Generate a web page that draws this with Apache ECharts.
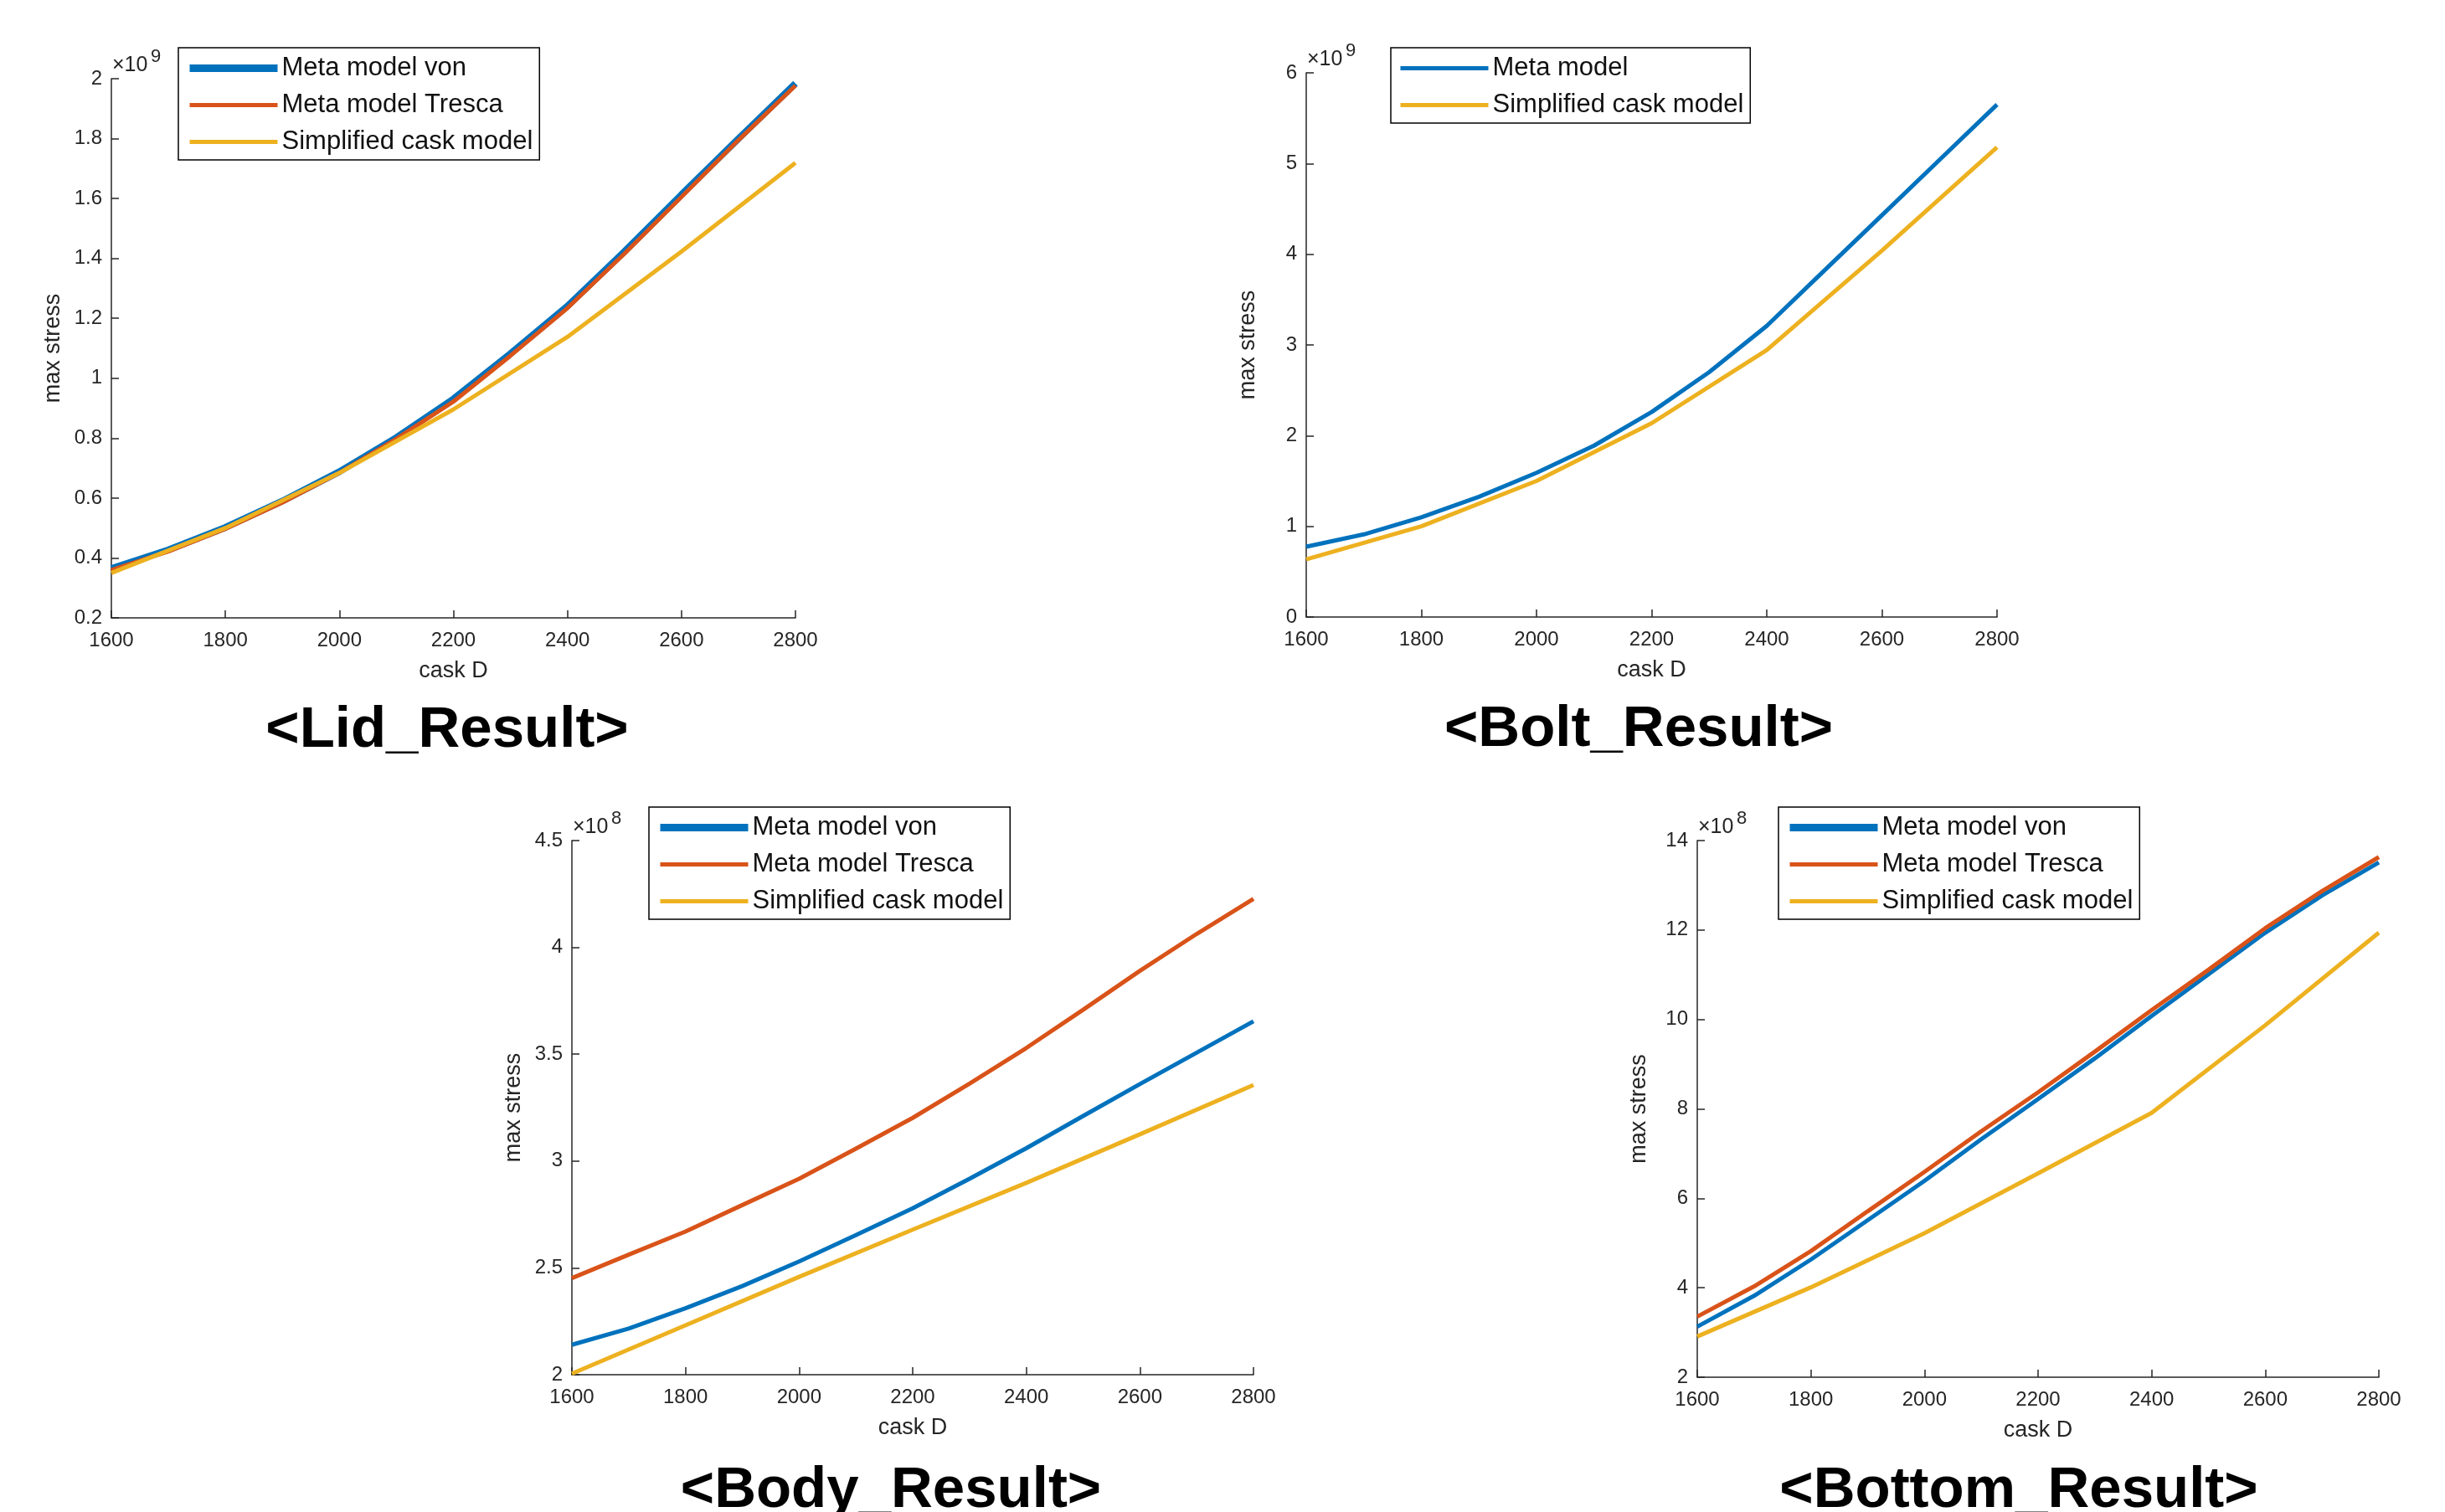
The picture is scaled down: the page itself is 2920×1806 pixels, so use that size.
<!DOCTYPE html>
<html>
<head>
<meta charset="utf-8">
<title>max stress vs cask D</title>
<script src="https://cdn.jsdelivr.net/npm/echarts@6/dist/echarts.min.js"></script>
<style>
    html, body { margin: 0; padding: 0; background: #fff; }
    #main { width: 2920px; height: 1806px; }
</style>
</head>
<body>
<div id="main"></div>
<script>
// cask diameter steps (meta model every 100, simplified model every 200)
var xMeta = [1600, 1700, 1800, 1900, 2000, 2100, 2200, 2300, 2400, 2500, 2600, 2700, 2800];
var xSimp = [1600, 1800, 2000, 2200, 2400, 2600, 2800];

// Lid (x10^9)
var lidVon     = [0.365, 0.427, 0.502, 0.590, 0.688, 0.802, 0.931, 1.082, 1.241, 1.423, 1.613, 1.800, 1.984];
var lidTresca  = [0.360, 0.422, 0.497, 0.585, 0.684, 0.798, 0.922, 1.075, 1.234, 1.416, 1.605, 1.795, 1.977];
var lidSimp    = [0.350, 0.500, 0.684, 0.896, 1.138, 1.423, 1.719];

// Bolt (x10^9)
var boltMeta   = [0.776, 0.911, 1.100, 1.326, 1.590, 1.890, 2.260, 2.700, 3.210, 3.820, 4.430, 5.040, 5.650];
var boltSimp   = [0.636, 1.000, 1.500, 2.137, 2.943, 4.040, 5.180];

// Body (x10^8)
var bodyVon    = [2.140, 2.216, 2.311, 2.415, 2.530, 2.653, 2.779, 2.917, 3.060, 3.211, 3.360, 3.507, 3.654];
var bodyTresca = [2.452, 2.562, 2.670, 2.794, 2.917, 3.058, 3.202, 3.362, 3.529, 3.708, 3.890, 4.063, 4.227];
var bodySimp   = [2.005, 2.231, 2.458, 2.679, 2.898, 3.125, 3.356];

// Bottom (x10^8)
var bottomVon    = [3.13, 3.82, 4.63, 5.51, 6.39, 7.32, 8.22, 9.13, 10.08, 11.01, 11.94, 12.77, 13.51];
var bottomTresca = [3.355, 4.03, 4.82, 5.71, 6.59, 7.50, 8.37, 9.28, 10.21, 11.11, 12.04, 12.87, 13.63];
var bottomSimp   = [2.91, 4.01, 5.22, 6.56, 7.91, 9.87, 11.94];

// axis ticks [min, max, step]
var xTicks = [1600, 2800, 200];
var yTicksLid = [0.2, 2, 0.2];
var yTicksBolt = [0, 6, 1];
var yTicksBody = [2, 4.5, 0.5];
var yTicksBottom = [2, 14, 2];

var panelTitles = ['<Lid_Result>', '<Bolt_Result>', '<Body_Result>', '<Bottom_Result>'];
var exponents = ['9', '9', '8', '8'];

var BLUE = '#0072BD', RED = '#D95319', YELLOW = '#EDB120';
var AX = '#262626';
var FONT = 'Liberation Sans, Arial, sans-serif';

function pairs(xs, ys) {
    var out = [];
    for (var i = 0; i < xs.length; i++) {
        out.push([xs[i], ys[i]]);
    }
    return out;
}

// panel boxes: [left, top, width, height]
var boxes = [
    [133, 94, 817, 644],
    [1560, 87, 825, 650],
    [683, 1004, 814, 638],
    [2027, 1004, 814, 641]
];
var yTicks = [yTicksLid, yTicksBolt, yTicksBody, yTicksBottom];
// big caption: centre x, baseline y
var titleBase = [[534, 891], [1957, 890], [1064, 1799], [2411, 1799]];

var grids = [], xAxes = [], yAxes = [], legends = [], graphics = [];

for (var i = 0; i < 4; i++) {
    var b = boxes[i];
    grids.push({left: b[0], top: b[1], width: b[2], height: b[3], containLabel: false});
    xAxes.push({
        type: 'value', gridIndex: i,
        min: xTicks[0], max: xTicks[1], interval: xTicks[2],
        name: 'cask D', nameLocation: 'middle', nameGap: 50,
        nameTextStyle: {color: AX, fontSize: 27, fontFamily: FONT},
        axisLine: {lineStyle: {color: AX, width: 1.5}},
        axisTick: {inside: true, length: 9, lineStyle: {color: AX, width: 1.5}},
        axisLabel: {
            color: AX, fontSize: 24, margin: 15, fontFamily: FONT,
            formatter: function (v) { return String(v); }
        },
        splitLine: {show: false}
    });
    yAxes.push({
        type: 'value', gridIndex: i,
        min: yTicks[i][0], max: yTicks[i][1], interval: yTicks[i][2],
        name: 'max stress', nameLocation: 'middle', nameGap: 56, nameRotate: 90,
        nameTextStyle: {color: AX, fontSize: 27, fontFamily: FONT},
        axisLine: {show: true, lineStyle: {color: AX, width: 1.5}},
        axisTick: {show: true, inside: true, length: 9, lineStyle: {color: AX, width: 1.5}},
        axisLabel: {
            color: AX, fontSize: 24, margin: 11, fontFamily: FONT,
            formatter: function (v) { return String(+v.toFixed(3)); }
        },
        splitLine: {show: false}
    });
    // x10^n exponent above the y axis
    graphics.push({
        type: 'text', left: b[0] + 1, top: b[1] - 28,
        style: {text: '\u00d710', fontSize: 25, fontFamily: FONT, fill: AX}
    });
    graphics.push({
        type: 'text', left: b[0] + 47, top: b[1] - 37,
        style: {text: exponents[i], fontSize: 22, fontFamily: FONT, fill: AX}
    });
    // big caption under each panel
    graphics.push({
        type: 'text', x: titleBase[i][0], y: titleBase[i][1] - 18,
        style: {
            text: panelTitles[i], x: 0, y: 0,
            fontSize: 69, fontWeight: 'bold', fontFamily: FONT, fill: '#000',
            align: 'center', verticalAlign: 'middle'
        }
    });
}

function legendBox(left, top, names, thickBlue) {
    var data = [];
    for (var k = 0; k < names.length; k++) {
        var d = {name: names[k]};
        if (k === 0 && thickBlue) d.lineStyle = {width: 9};
        data.push(d);
    }
    return {
        orient: 'vertical', left: left, top: top,
        data: data,
        itemWidth: 105, itemHeight: 30, itemGap: 13,
        padding: [9, 8, 6, 9],
        borderColor: '#000', borderWidth: 1.5, backgroundColor: '#fff',
        borderRadius: 0,
        itemStyle: {opacity: 0},
        lineStyle: {width: 5},
        textStyle: {color: '#111', fontSize: 31, lineHeight: 30, fontFamily: FONT},
        selectedMode: false
    };
}

legends.push(legendBox(213, 57, ['Meta model von', 'Meta model Tresca', 'Simplified cask model'], true));
legends.push(legendBox(1661, 57, ['Meta model', 'Simplified cask model'], false));
legends.push(legendBox(775, 964, ['Meta model von', 'Meta model Tresca', 'Simplified cask model'], true));
legends.push(legendBox(2124, 964, ['Meta model von', 'Meta model Tresca', 'Simplified cask model'], true));

function line(name, idx, color, width, data) {
    return {
        name: name, type: 'line', xAxisIndex: idx, yAxisIndex: idx,
        symbol: 'none', data: data,
        lineStyle: {color: color, width: width},
        itemStyle: {color: color},
        animation: false
    };
}

var series = [
    line('Meta model von', 0, BLUE, 8, pairs(xMeta, lidVon)),
    line('Meta model Tresca', 0, RED, 5, pairs(xMeta, lidTresca)),
    line('Simplified cask model', 0, YELLOW, 5, pairs(xSimp, lidSimp)),

    line('Meta model', 1, BLUE, 5, pairs(xMeta, boltMeta)),
    line('Simplified cask model', 1, YELLOW, 5, pairs(xSimp, boltSimp)),

    line('Meta model von', 2, BLUE, 5, pairs(xMeta, bodyVon)),
    line('Meta model Tresca', 2, RED, 5, pairs(xMeta, bodyTresca)),
    line('Simplified cask model', 2, YELLOW, 5, pairs(xSimp, bodySimp)),

    line('Meta model von', 3, BLUE, 5, pairs(xMeta, bottomVon)),
    line('Meta model Tresca', 3, RED, 5, pairs(xMeta, bottomTresca)),
    line('Simplified cask model', 3, YELLOW, 5, pairs(xSimp, bottomSimp))
];

var chart = echarts.init(document.getElementById('main'), null, {renderer: 'canvas'});
chart.setOption({
    backgroundColor: '#fff',
    animation: false,
    grid: grids,
    xAxis: xAxes,
    yAxis: yAxes,
    legend: legends,
    series: series,
    graphic: graphics
});
</script>
</body>
</html>
